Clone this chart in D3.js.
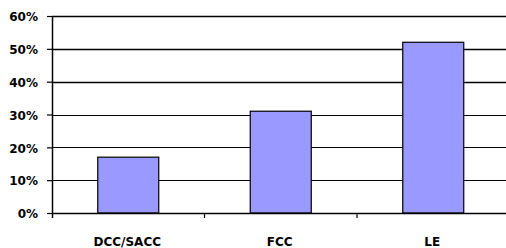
<!DOCTYPE html>
<html>
<head>
<meta charset="utf-8">
<script src="https://cdn.jsdelivr.net/npm/d3@7"></script>
<style>
  body { margin: 0; background: #fff; }
  text { font-family: "DejaVu Sans", sans-serif; font-weight: bold; font-size: 12px; fill: #000; }
</style>
</head>
<body>
<svg id="chart" width="506" height="248"></svg>
<script>
  const categories = ["DCC/SACC", "FCC", "LE"];
  const values = [0.17, 0.31, 0.52];
  const yTicks = [0, 0.1, 0.2, 0.3, 0.4, 0.5, 0.6];

  const svg = d3.select("#chart");
  const plotLeft = 52, plotRight = 509.5, plotTop = 16, plotBottom = 213;

  const x = d3.scaleBand().domain(categories).range([plotLeft, plotRight]);
  const y = d3.scaleLinear().domain([0, 0.6]).range([plotBottom, plotTop]);

  // gridlines
  svg.append("g")
    .selectAll("line")
    .data(yTicks.slice(1))
    .enter()
    .append("line")
    .attr("x1", plotLeft)
    .attr("x2", 506)
    .attr("y1", (d) => Math.round(y(d)) + 0.5)
    .attr("y2", (d) => Math.round(y(d)) + 0.5)
    .attr("stroke", "#000")
    .attr("stroke-width", (d) => (d >= 0.4 ? 1.6 : 1.2));

  // bars
  const barW = x.bandwidth() * 0.4;
  svg.append("g")
    .selectAll("rect")
    .data(values)
    .enter()
    .append("rect")
    .attr("x", (d, i) => x(categories[i]) + (x.bandwidth() - barW) / 2)
    .attr("y", (d) => y(d))
    .attr("width", barW)
    .attr("height", (d) => y(0) - y(d))
    .attr("fill", "#9999ff")
    .attr("stroke", "#000")
    .attr("stroke-width", 1.2);

  // y axis
  const yAxis = svg.append("g")
    .attr("transform", `translate(${plotLeft},0)`)
    .call(d3.axisLeft(y).tickValues(yTicks).tickFormat(d3.format(".0%")).tickSize(5).tickPadding(9));
  yAxis.select(".domain").attr("d", `M0.5,${plotTop}V218`).attr("stroke-width", 1.5);
  yAxis.selectAll(".tick line").attr("stroke-width", 1.2);
  yAxis.selectAll("text").attr("dy", "0.4em").style("font-size", "12px").style("font-family", "DejaVu Sans");

  // x axis
  const xAxis = svg.append("g")
    .attr("transform", `translate(0,${plotBottom})`);
  xAxis.append("line")
    .attr("x1", plotLeft)
    .attr("x2", 506)
    .attr("y1", 0.5)
    .attr("y2", 0.5)
    .attr("stroke", "#000")
    .attr("stroke-width", 1.5);
  xAxis.selectAll(".sep")
    .data(categories.slice(1))
    .enter()
    .append("line")
    .attr("class", "sep")
    .attr("x1", (d) => x(d))
    .attr("x2", (d) => x(d))
    .attr("y1", 0)
    .attr("y2", 5)
    .attr("stroke", "#000")
    .attr("stroke-width", 1.2);
  xAxis.selectAll(".lbl")
    .data(categories)
    .enter()
    .append("text")
    .attr("class", "lbl")
    .attr("x", (d) => x(d) + x.bandwidth() / 2 - 1)
    .attr("y", 32.5)
    .attr("text-anchor", "middle")
    .text((d) => d);
</script>
</body>
</html>
